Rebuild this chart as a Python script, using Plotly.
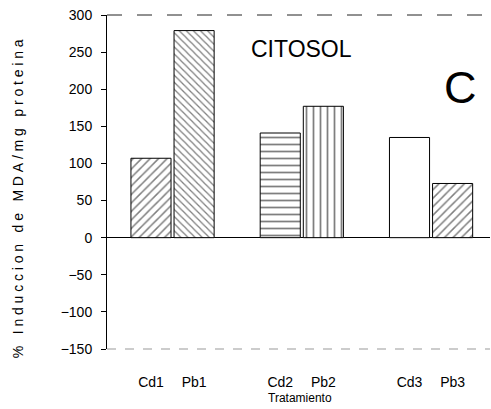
import plotly.graph_objects as go

# Data: % induction of MDA per mg protein, cytosol fraction
groups = [0, 1, 2]
cd_labels = ["Cd1", "Cd2", "Cd3"]
pb_labels = ["Pb1", "Pb2", "Pb3"]
cd_values = [107, 141, 135]
pb_values = [279, 177, 73]
y_ticks = [300, 250, 200, 150, 100, 50, 0, -50, -100, -150]

cd_patterns = ["/", "-", ""]
pb_patterns = ["\\", "|", "/"]
cd_pattern_sizes = [6, 7, 6]
pb_pattern_sizes = [5, 7, 6]

BARGAP = 0.333
FONT = "Liberation Sans, Arial, sans-serif"

fig = go.Figure()
fig.add_trace(go.Bar(
    x=groups, y=cd_values, name="Cd",
    marker=dict(color="white", line=dict(color="black", width=1),
                pattern=dict(shape=cd_patterns, fgcolor="black", bgcolor="white",
                             size=cd_pattern_sizes, solidity=0.25)),
))
fig.add_trace(go.Bar(
    x=groups, y=pb_values, name="Pb",
    marker=dict(color="white", line=dict(color="black", width=1),
                pattern=dict(shape=pb_patterns, fgcolor="black", bgcolor="white",
                             size=pb_pattern_sizes, solidity=0.25)),
))

# tick positions under each bar of a group
slot = (1 - BARGAP) / 4
tickvals, ticktext = [], []
for g, c, p in zip(groups, cd_labels, pb_labels):
    tickvals += [g - slot, g + slot]
    ticktext += [c, p]

fig.update_layout(
    width=491, height=409,
    margin=dict(l=107, r=1, t=15, b=60),
    paper_bgcolor="white", plot_bgcolor="white",
    barmode="group", bargap=BARGAP, bargroupgap=0.07,
    showlegend=False,
    font=dict(family=FONT, color="black"),
    xaxis=dict(range=[-0.507, 2.456], tickvals=tickvals, ticktext=ticktext,
               showgrid=False, zeroline=False, showline=False, ticks="",
               ticklabelstandoff=23, tickfont=dict(size=14, color="black")),
    yaxis=dict(range=[-150, 300], tickvals=y_ticks, showgrid=False,
               zeroline=True, zerolinecolor="black", zerolinewidth=1,
               showline=True, linecolor="black", linewidth=1,
               ticks="outside", ticklen=5, tickcolor="black",
               ticklabelstandoff=6, tickfont=dict(size=14, color="black")),
)

# frame lines: dashed top and bottom borders
fig.add_shape(type="line", xref="paper", yref="paper", x0=0, x1=1, y0=1, y1=1,
              line=dict(color="#222", width=1, dash="longdash"))
fig.add_shape(type="line", xref="paper", yref="paper", x0=0, x1=1, y0=0, y1=0,
              line=dict(color="#999", width=1, dash="dash"))

fig.add_annotation(text="CITOSOL", xref="paper", yref="paper",
                   x=0.509, y=0.943, showarrow=False,
                   font=dict(size=23, family=FONT))
fig.add_annotation(text="C", xref="paper", yref="paper",
                   x=0.97, y=0.865, showarrow=False,
                   font=dict(size=45, family=FONT))
fig.add_annotation(text="Tratamiento", xref="paper", yref="paper",
                   x=0.504, y=-0.148, showarrow=False, yanchor="middle",
                   font=dict(size=12, family=FONT))
fig.add_annotation(
    text='<span style="letter-spacing:3.8px">% Induccion de MDA/mg proteina</span>',
    xref="paper", yref="paper", x=-0.258, y=0.455, textangle=-90,
    showarrow=False, font=dict(size=14, family=FONT))

fig.write_html("out.html")
